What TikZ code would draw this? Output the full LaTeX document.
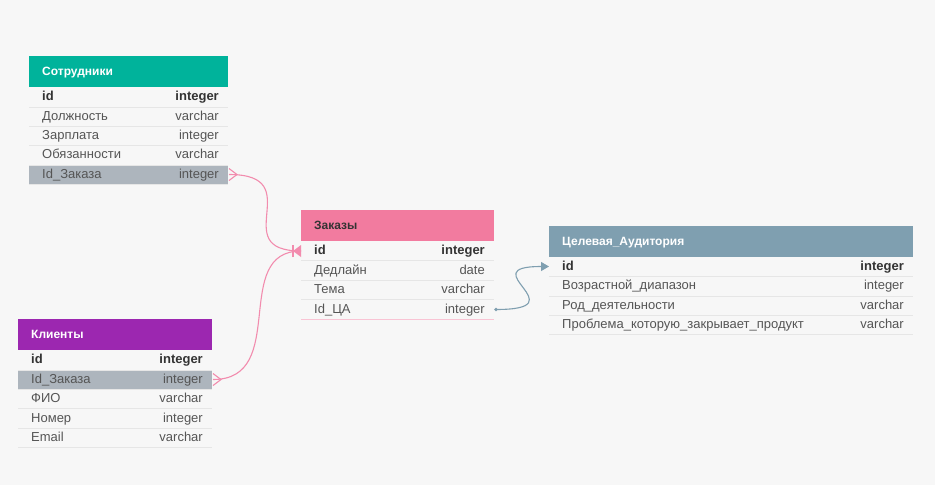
\documentclass[tikz,border=0pt]{standalone}
\usepackage{fontspec}
\setmainfont{Liberation Sans}
\usetikzlibrary{arrows.meta}
\definecolor{bg}{HTML}{F7F7F7}
\definecolor{teal}{HTML}{00B39B}
\definecolor{purp}{HTML}{9C27B0}
\definecolor{pinkh}{HTML}{F27B9F}
\definecolor{slate}{HTML}{7F9FB0}
\definecolor{hl}{HTML}{ADB5BD}
\definecolor{sep}{HTML}{E6E6E6}
\definecolor{txt}{HTML}{555555}
\definecolor{dtxt}{HTML}{333333}
\definecolor{lnk}{HTML}{F28CAE}
\definecolor{blnk}{HTML}{7F9FB0}
\tikzset{
  hdr/.style={anchor=west, font=\fontsize{12}{14}\selectfont\bfseries, text=white, inner sep=0pt, text height=9pt, text depth=3pt},
  fld/.style={anchor=west, font=\fontsize{13}{15}\selectfont, text=txt, inner sep=0pt, text height=9.5pt, text depth=3pt},
  typ/.style={anchor=east, font=\fontsize{13}{15}\selectfont, text=txt, inner sep=0pt, text height=9.5pt, text depth=3pt},
  key/.style={font=\fontsize{13}{15}\selectfont\bfseries, text=dtxt},
  rowline/.style={draw=sep, line width=0.8pt},
  rel/.style={draw=lnk, line width=1.1pt},
  brel/.style={draw=blnk, line width=1.1pt},
}
\begin{document}
\begin{tikzpicture}[x=1pt,y=-1pt]
\fill[bg] (0,0) rectangle (935,485);
\useasboundingbox (0,0) rectangle (935,485);

% ---------- Сотрудники ----------
\fill[teal] (29,56) rectangle (228,87);
\fill[hl] (29,165) rectangle (228,184);
\foreach \y in {107,126,145,165,184} \draw[rowline] (29,\y) -- (228,\y);
\node[hdr] (s-h) at (42,72) {Сотрудники};
\node[fld,key] (s-1) at (42,97.5) {id};
\node[typ,key] (s-1t) at (219,97.5) {integer};
\node[fld] (s-2) at (42,117) {Должность};
\node[typ] (s-2t) at (219,117) {varchar};
\node[fld] (s-3) at (42,136) {Зарплата};
\node[typ] (s-3t) at (219,136) {integer};
\node[fld] (s-4) at (42,155.5) {Обязанности};
\node[typ] (s-4t) at (219,155.5) {varchar};
\node[fld] (s-5) at (42,175) {Id\_Заказа};
\node[typ] (s-5t) at (219,175) {integer};
\coordinate (s-out) at (229,174.5);

% ---------- Клиенты ----------
\fill[purp] (18,319) rectangle (212,350);
\fill[hl] (18,370) rectangle (212,389);
\foreach \y in {370,389,408,428,447} \draw[rowline] (18,\y) -- (212,\y);
\node[hdr] (k-h) at (31,335) {Клиенты};
\node[fld,key] (k-1) at (31,360.5) {id};
\node[typ,key] (k-1t) at (203,360.5) {integer};
\node[fld] (k-2) at (31,380) {Id\_Заказа};
\node[typ] (k-2t) at (203,380) {integer};
\node[fld] (k-3) at (31,399.5) {ФИО};
\node[typ] (k-3t) at (203,399.5) {varchar};
\node[fld] (k-4) at (31,419) {Номер};
\node[typ] (k-4t) at (203,419) {integer};
\node[fld] (k-5) at (31,438) {Email};
\node[typ] (k-5t) at (203,438) {varchar};
\coordinate (k-out) at (213,379.5);

% ---------- Заказы ----------
\fill[pinkh] (301,210) rectangle (494,241);
\foreach \y in {260,280,299} \draw[rowline] (301,\y) -- (494,\y);
\draw[draw=pinkh!45, line width=1pt] (301,319.5) -- (494,319.5);
\node[hdr, text=dtxt] (z-h) at (314,226) {Заказы};
\node[fld,key] (z-1) at (314,251.5) {id};
\node[typ,key] (z-1t) at (485,251.5) {integer};
\node[fld] (z-2) at (314,271) {Дедлайн};
\node[typ] (z-2t) at (485,271) {date};
\node[fld] (z-3) at (314,290) {Тема};
\node[typ] (z-3t) at (485,290) {varchar};
\node[fld] (z-4) at (314,310) {Id\_ЦА};
\node[typ] (z-4t) at (485,310) {integer};
\coordinate (z-in) at (301,251);
\coordinate (z-out) at (496,309.5);

% ---------- Целевая_Аудитория ----------
\fill[slate] (549,226) rectangle (913,257);
\foreach \y in {276,296,315,334} \draw[rowline] (549,\y) -- (913,\y);
\node[hdr] (c-h) at (562,242) {Целевая\_Аудитория};
\node[fld,key] (c-1) at (562,267) {id};
\node[typ,key] (c-1t) at (904,267) {integer};
\node[fld] (c-2) at (562,286.5) {Возрастной\_диапазон};
\node[typ] (c-2t) at (904,286.5) {integer};
\node[fld] (c-3) at (562,306) {Род\_деятельности};
\node[typ] (c-3t) at (904,306) {varchar};
\node[fld] (c-4) at (562,325.5) {Проблема\_которую\_закрывает\_продукт};
\node[typ] (c-4t) at (904,325.5) {varchar};
\coordinate (c-in) at (549,266.5);

% ---------- connectors ----------
\draw[rel] (s-out) .. controls (310,174.5) and (225,251) .. (z-in);
\draw[rel] (k-out) .. controls (290,379.5) and (230,251) .. (z-in);
% crow's feet
\draw[rel] ([yshift=-6]s-out) -- ([xshift=8]s-out) -- ([yshift=6]s-out);
\draw[rel] ([yshift=-6]k-out) -- ([xshift=8]k-out) -- ([yshift=6]k-out);
\fill[lnk] ([xshift=-8]z-in) -- ([yshift=-6]z-in) -- ([yshift=6]z-in) -- cycle;
\draw[rel] ([xshift=-8,yshift=-6]z-in) -- ([xshift=-8,yshift=6]z-in);
% blue
\fill[blnk] (z-out) circle (1.8);
\draw[brel, -{Triangle[length=8pt,width=9pt]}] (z-out) .. controls (580,309.5) and (470,266.5) .. (c-in);
\end{tikzpicture}
\end{document}
